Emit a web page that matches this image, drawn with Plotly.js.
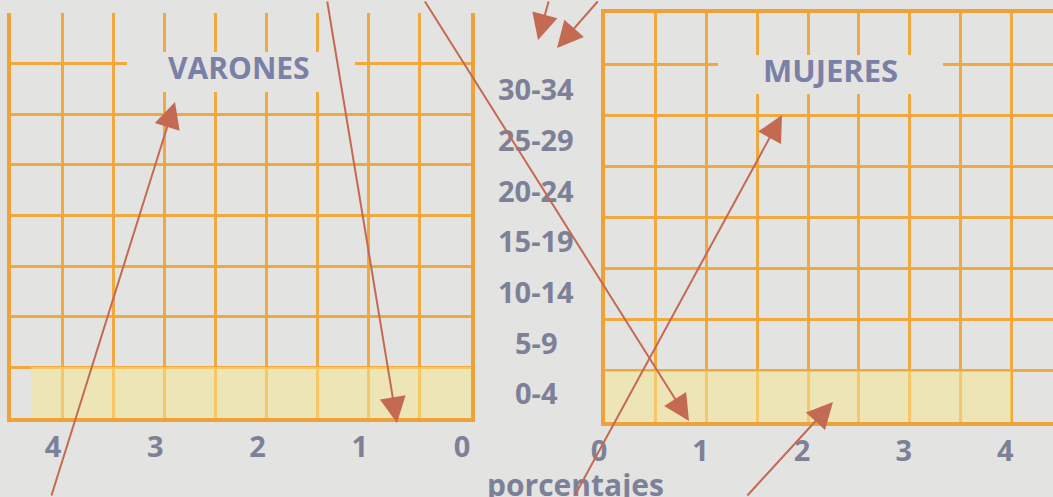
<!DOCTYPE html>
<html>
<head>
<meta charset="utf-8">
<script src="https://cdn.plot.ly/plotly-3.0.1.min.js"></script>
<style>
  html, body { margin: 0; padding: 0; background: #e3e3e1; }
  #chart { width: 1053px; height: 497px; }
</style>
</head>
<body>
<div id="chart"></div>
<script>
// ---- data ----
const ageGroups = ['0-4', '5-9', '10-14', '15-19', '20-24', '25-29', '30-34'];
const varones = [4.3, null, null, null, null, null, null];
const mujeres = [4.0, null, null, null, null, null, null];
const xTickVals = [0, 1, 2, 3, 4];
const xTickText = ['0', '1', '2', '3', '4'];
const panelTitles = ['VARONES', 'MUJERES'];
const axisLabel = 'porcentajes';

// ---- styles ----
const W = 1053, H = 497;
const bg = '#e3e3e1';
const grid = '#f0a93e';
const lineCol = '#eda23a';
const barFill = 'rgba(250, 232, 140, 0.5)';
const textCol = '#7d8198';
const titleCol = '#7a80a6';
const arrowCol = '#c46a52';
const font = 'Open Sans, Noto Sans, sans-serif';
const px = v => v / W;
const py = v => 1 - v / H;

function xAxisBase(domain, range, shift) {
  return {
    domain: domain, range: range, autorange: false,
    tickmode: 'array', tickvals: xTickVals, ticktext: xTickText,
    showgrid: true, gridcolor: grid, gridwidth: 3,
    minor: { tickmode: 'linear', tick0: 0, dtick: 0.5, showgrid: true, gridcolor: grid, gridwidth: 3, ticks: '' },
    showline: true, linecolor: lineCol, linewidth: 4,
    zeroline: false,
    ticks: '', ticklen: 0,
    tickfont: { family: font, size: 29, color: textCol, weight: 700 },
    ticklabelshift: shift,
    fixedrange: true
  };
}
function yAxisBase(domain) {
  return {
    domain: domain, type: 'category', categoryorder: 'array', categoryarray: ageGroups,
    range: [-0.5, ageGroups.length + 0.5], autorange: false,
    tickson: 'boundaries',
    showgrid: true, gridcolor: grid, gridwidth: 3,
    showticklabels: false, ticks: '',
    showline: true, linecolor: lineCol, linewidth: 4,
    zeroline: false, fixedrange: true
  };
}

const traces = [
  { type: 'bar', orientation: 'h', y: ageGroups, x: varones, xaxis: 'x', yaxis: 'y',
    marker: { color: barFill, line: { width: 0 } }, hoverinfo: 'skip', showlegend: false },
  { type: 'bar', orientation: 'h', y: ageGroups, x: mujeres, xaxis: 'x2', yaxis: 'y2',
    marker: { color: barFill, line: { width: 0 } }, hoverinfo: 'skip', showlegend: false }
];

const xa = xAxisBase([px(11), px(471)], [4.5, 0], 9);
xa.anchor = 'y';
const ya = yAxisBase([1 - 418 / H, 1 - 13 / H]);
ya.anchor = 'x'; ya.mirror = true;
const xa2 = xAxisBase([px(605), 1], [0, 4.41], -6);
xa2.anchor = 'y2'; xa2.mirror = true;
const ya2 = yAxisBase([1 - 422 / H, 1 - 13 / H]);
ya2.anchor = 'x2';

const annotations = [];
// category labels in the middle column
ageGroups.forEach(g => annotations.push({
  xref: 'paper', yref: 'y', x: px(536), y: g, text: g, showarrow: false,
  xanchor: 'center', yanchor: 'middle',
  font: { family: font, size: 29, color: textCol, weight: 700 }
}));
// panel titles
annotations.push({ xref: 'paper', yref: 'paper', x: px(239), y: py(67), text: panelTitles[0], showarrow: false,
  xanchor: 'center', yanchor: 'middle', font: { family: font, size: 30, color: titleCol, weight: 700 } });
annotations.push({ xref: 'paper', yref: 'paper', x: px(830), y: py(70), text: panelTitles[1], showarrow: false,
  xanchor: 'center', yanchor: 'middle', font: { family: font, size: 31, color: titleCol, weight: 700 } });
// axis label
annotations.push({ xref: 'paper', yref: 'paper', x: px(575), y: py(484), text: axisLabel, showarrow: false,
  xanchor: 'center', yanchor: 'middle', font: { family: font, size: 30, color: textCol, weight: 700 } });

// hand-drawn arrows (decoration)
const arrows = [
  [397, 423, 327, -5],
  [689, 421, 424, -5],
  [175, 102, 51, 502],
  [782, 115, 574, 502],
  [833, 402, 746, 502],
  [538, 40, 549, -5],
  [557, 48, 599, -5]
];
arrows.forEach(a => annotations.push({
  xref: 'paper', yref: 'paper', x: px(a[0]), y: py(a[1]), ax: a[2] - a[0], ay: a[3] - a[1],
  text: '', showarrow: true, arrowhead: 2, arrowsize: 2.6, arrowwidth: 2, arrowcolor: arrowCol, standoff: 0
}));

const shapes = [
  { type: 'rect', xref: 'paper', yref: 'paper', x0: px(127), x1: px(355), y0: py(92), y1: py(52),
    fillcolor: bg, line: { width: 0 }, layer: 'above' },
  { type: 'rect', xref: 'paper', yref: 'paper', x0: px(718), x1: px(943), y0: py(94), y1: py(55),
    fillcolor: bg, line: { width: 0 }, layer: 'above' }
];

const layout = {
  width: W, height: H,
  margin: { l: 0, r: 0, t: 0, b: 0, pad: 0 },
  paper_bgcolor: bg, plot_bgcolor: bg,
  bargap: 0,
  showlegend: false,
  xaxis: xa, yaxis: ya, xaxis2: xa2, yaxis2: ya2,
  annotations: annotations,
  shapes: shapes
};

Plotly.newPlot('chart', traces, layout, { displayModeBar: false, staticPlot: true });
</script>
</body>
</html>
